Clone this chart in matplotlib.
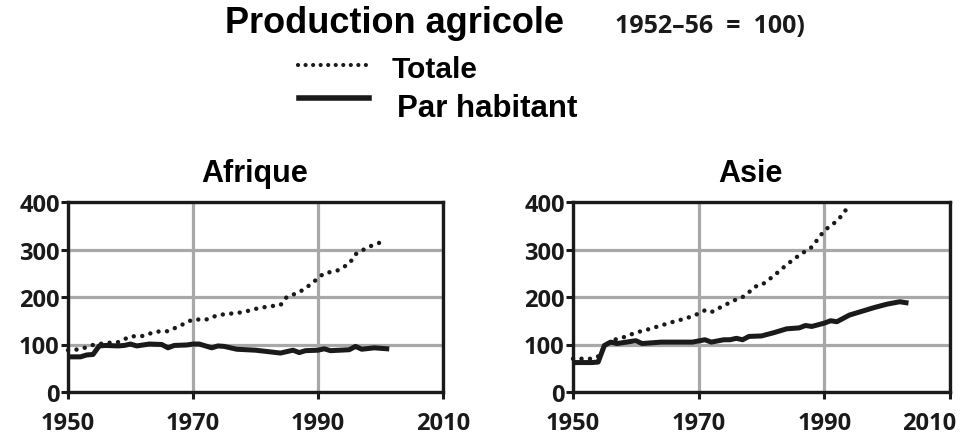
import matplotlib
matplotlib.use("Agg")
import matplotlib.pyplot as plt
from matplotlib.lines import Line2D
from matplotlib.transforms import ScaledTranslation

# ---- data ----
afr_tot_years = [1950, 1952, 1954, 1956, 1958, 1960, 1962, 1964, 1966, 1968, 1970, 1972, 1974,
                 1976, 1978, 1980, 1982, 1984, 1985, 1987, 1989, 1990, 1991, 1993, 1995, 1996,
                 1998, 2000]
afr_tot = [88, 90, 99, 103, 105, 117, 118, 127, 128, 140, 153, 152, 162, 165, 168, 175, 180, 183,
           200, 210, 228, 240, 250, 255, 270, 290, 305, 315]

afr_pc_years = [1950, 1952, 1953, 1954, 1955, 1956, 1958, 1959, 1960, 1961, 1963, 1965, 1966, 1967,
                1969, 1970, 1971, 1973, 1974, 1975, 1977, 1980, 1984, 1986, 1987, 1988, 1990, 1991,
                1992, 1995, 1996, 1997, 1999, 2001]
afr_pc = [74, 74, 78, 79, 97, 98, 97, 98, 101, 97, 101, 100, 93, 98, 99, 101, 101, 93, 97, 96,
          90, 88, 82, 88, 83, 87, 88, 91, 87, 89, 96, 90, 93, 91]

asi_tot_years = [1950, 1953, 1954, 1955, 1956, 1958, 1960, 1962, 1964, 1966, 1968, 1970, 1971, 1972,
                 1974, 1976, 1977, 1978, 1979, 1980, 1982, 1984, 1986, 1988, 1990, 1991, 1992,
                 1993, 1994]
asi_tot = [70, 70, 75, 95, 108, 115, 125, 132, 140, 148, 155, 165, 172, 168, 182, 195, 200, 210,
           222, 225, 245, 268, 288, 305, 340, 350, 360, 375, 395]

asi_pc_years = [1950, 1953, 1954, 1955, 1956, 1957, 1960, 1961, 1964, 1968, 1969, 1971, 1972, 1974,
                1975, 1976, 1977, 1978, 1980, 1982, 1984, 1986, 1987, 1988, 1990, 1991, 1992,
                1994, 1996, 1998, 2000, 2002, 2003]
asi_pc = [62, 62, 63, 98, 105, 102, 108, 102, 105, 105, 105, 110, 105, 110, 110, 113, 110, 117,
          118, 125, 133, 135, 140, 138, 145, 150, 148, 162, 170, 178, 185, 190, 188]

panel_titles = ["Afrique", "Asie"]
x_ticks = [1950, 1970, 1990, 2010]
y_ticks = [0, 100, 200, 300, 400]

# ---- figure ----
W, H = 973, 435
fig = plt.figure(figsize=(W / 100, H / 100), dpi=100)

def fx(px):
    return px / W

def fy(py):
    return 1 - py / H

INK = "#1a1a1a"
title_font = dict(family="Liberation Sans", weight="bold", color="black")

panels = [
    (68, 443, 255, afr_tot_years, afr_tot, afr_pc_years, afr_pc),
    (573, 950, 750, asi_tot_years, asi_tot, asi_pc_years, asi_pc),
]
for i, (x0, x1, tx, ty, tv, py_, pv) in enumerate(panels):
    ax = fig.add_axes([fx(x0), fy(393), fx(x1) - fx(x0), fy(203) - fy(393)])
    ax.set_xlim(1950, 2010)
    ax.set_ylim(0, 400)
    ax.set_xticks(x_ticks)
    ax.set_yticks(y_ticks)
    ax.grid(True, color="#a8a8a8", linewidth=2.3)
    ax.set_axisbelow(True)
    for s in ax.spines.values():
        s.set_linewidth(2.4)
        s.set_color(INK)
    ax.tick_params(direction="out", length=5, width=2.2, color=INK)
    ax.tick_params(axis="x", pad=9)
    ax.tick_params(axis="y", pad=1)
    labels = ax.get_xticklabels() + ax.get_yticklabels()
    for lab in labels:
        lab.set_fontfamily("Open Sans")
        lab.set_fontweight("bold")
        lab.set_fontsize(17)
        lab.set_color(INK)
    if i == 1:
        last = ax.get_xticklabels()[-1]
        last.set_transform(last.get_transform() + ScaledTranslation(-21 / 100, 0, fig.dpi_scale_trans))
    ax.plot(ty, tv, linestyle=(0, (0.01, 1.9)), dash_capstyle="round", linewidth=3.2,
            color=INK, clip_on=False)
    ax.plot(py_, pv, linestyle="-", linewidth=3.6, color=INK, solid_joinstyle="round")
    fig.text(fx(tx), fy(182), panel_titles[i], fontsize=22, ha="center", va="baseline",
             **title_font)

fig.text(fx(225), fy(33), "Production agricole", fontsize=26, ha="left", va="baseline",
         **title_font)
fig.text(fx(615), fy(33), "1952\u201356  =  100)", fontsize=18, ha="left", va="baseline",
         family="Open Sans", weight="bold", color=INK)

fig.add_artist(Line2D([fx(298), fx(368)], [fy(66), fy(66)], linestyle=(0, (0.01, 1.8)),
                      dash_capstyle="round", linewidth=3, color=INK))
fig.text(fx(392), fy(78), "Totale", fontsize=21.5, ha="left", va="baseline", **title_font)
fig.add_artist(Line2D([fx(299), fx(369)], [fy(99), fy(99)], linewidth=4, color=INK))
fig.text(fx(397), fy(117), "Par habitant", fontsize=22.5, ha="left", va="baseline", **title_font)

fig.savefig("out.png", dpi=100)
